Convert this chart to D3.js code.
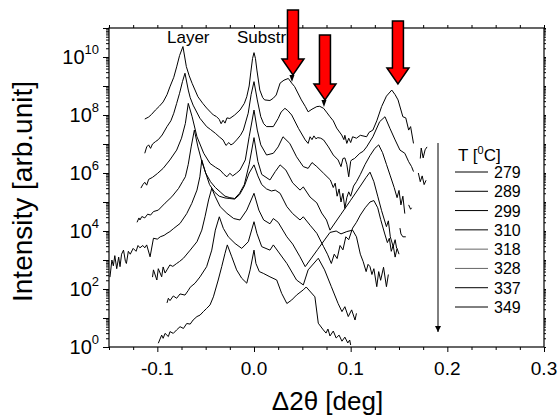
<!DOCTYPE html>
<html>
<head>
<meta charset="utf-8">
<script src="https://cdn.jsdelivr.net/npm/d3@7/dist/d3.min.js"></script>
<style>
  body { margin: 0; background: #fff; }
  text { font-family: "Liberation Sans", Arial, sans-serif; fill: #000; }
</style>
</head>
<body>
<div class="xrd-graph"></div>
<script>
// temperatures (legend), top curve first
const temps = ['279', '289', '299', '310', '318', '328', '337', '349'];

// each curve: [delta 2theta (deg), log10 intensity]; null = gap in the data
const c279 = [[-0.113,7.86],[-0.109,7.93],[-0.106,8.02],[-0.102,8.17],[-0.098,8.3],[-0.094,8.45],[-0.090,8.7],[-0.087,8.97],[-0.083,9.3],[-0.080,9.66],[-0.077,10.05],[-0.0735,10.36],[-0.070,9.67],[-0.067,9.35],[-0.064,9.09],[-0.058,8.63],[-0.053,8.4],[-0.049,8.24],[-0.045,8.1],[-0.042,8.0],[-0.039,7.95],[-0.036,7.85],[-0.034,7.7],[-0.032,7.82],[-0.030,7.72],[-0.028,7.9],[-0.025,7.88],[-0.020,8.0],[-0.0145,8.17],[-0.010,8.4],[-0.0075,8.63],[-0.005,9.0],[-0.0034,9.45],[-0.0015,9.95],[0,10.15],[0.0015,9.95],[0.003,9.55],[0.006,8.86],[0.009,8.6],[0.011,8.52],[0.0165,8.5],[0.020,8.58],[0.023,8.69],[0.027,9.1],[0.031,9.2],[0.0355,9.26],[0.039,9.1],[0.042,8.98],[0.049,8.52],[0.053,8.3],[0.056,8.11],[0.060,8.2],[0.065,8.29],[0.068,8.3],[0.072,8.23],[0.075,8.1],[0.0786,7.94],[0.082,7.8],[0.0855,7.55],[0.0907,7.31],[0.093,7.15],[0.094,7.3],[0.096,7.02],[0.098,7.2],[0.100,7.05],[0.102,7.25],[0.106,7.2],[0.110,7.3],[0.1165,7.25],[0.119,7.4],[0.123,7.48],[0.127,7.8],[0.132,8.29],[0.137,8.65],[0.1425,8.86],[0.146,8.7],[0.149,8.52],[0.154,7.94],[0.157,7.9],[0.160,7.48],[0.162,7.6],[0.165,7.02],null,[0.172,6.5],[0.173,6.86],[0.175,6.52],[0.177,6.8],[0.179,6.9]];
const c289 = [[-0.113,6.68],[-0.111,6.9],[-0.109,6.97],[-0.107,6.85],[-0.105,7.0],[-0.102,7.08],[-0.099,7.15],[-0.095,7.31],[-0.090,7.6],[-0.086,7.8],[-0.083,8.06],[-0.080,8.4],[-0.077,8.75],[-0.074,9.15],[-0.0714,9.44],[-0.068,8.86],[-0.066,8.6],[-0.063,8.34],[-0.056,7.89],[-0.049,7.6],[-0.045,7.5],[-0.040,7.37],[-0.036,7.25],[-0.032,7.14],[-0.029,6.95],[-0.026,7.05],[-0.024,6.97],[-0.022,7.0],[-0.018,7.14],[-0.014,7.3],[-0.011,7.48],[-0.006,8.06],[-0.003,8.7],[0,9.15],[0.0034,8.52],[0.007,7.94],[0.010,7.7],[0.013,7.6],[0.020,7.6],[0.025,7.88],[0.028,8.1],[0.032,8.23],[0.035,8.15],[0.039,8.0],[0.046,7.54],[0.053,7.14],[0.056,7.02],[0.058,7.25],[0.060,7.15],[0.062,7.28],[0.064,7.18],[0.066,7.22],[0.069,7.2],[0.072,7.14],[0.077,6.9],[0.082,6.62],[0.087,6.45],[0.090,6.22],[0.092,6.5],[0.094,6.52],[0.096,6.3],[0.098,5.87],[0.100,6.4],[0.101,6.45],[0.104,6.5],[0.1095,6.68],[0.113,6.75],[0.1165,6.9],[0.123,7.25],[0.130,7.77],[0.1355,7.94],[0.1406,7.54],[0.146,7.14],[0.151,6.79],[0.156,6.68],[0.160,6.39],[0.163,6.22],[0.165,6.05],null,[0.170,6.0],[0.172,5.7],[0.174,5.9],[0.176,5.6],[0.178,5.75]];
const c299 = [[-0.117,5.48],[-0.115,5.6],[-0.113,5.68],[-0.111,5.58],[-0.109,5.78],[-0.105,5.85],[-0.100,5.98],[-0.094,6.16],[-0.087,6.45],[-0.080,6.79],[-0.075,7.2],[-0.071,7.71],[-0.068,8.4],[-0.064,7.94],[-0.059,7.25],[-0.052,6.68],[-0.0455,6.33],[-0.040,6.2],[-0.035,6.1],[-0.031,5.95],[-0.028,5.87],[-0.025,5.99],[-0.022,5.9],[-0.018,6.0],[-0.0145,6.1],[-0.009,6.45],[-0.005,7.25],[0,8.17],[0.0034,7.48],[0.007,6.97],[0.013,6.62],[0.020,6.68],[0.025,6.9],[0.030,7.25],[0.037,7.02],[0.044,6.56],[0.051,6.22],[0.056,6.16],[0.060,6.36],[0.065,6.22],[0.072,5.99],[0.079,5.76],[0.082,5.5],[0.084,5.65],[0.086,5.2],[0.088,5.45],[0.090,5.0],[0.092,5.3],[0.094,4.78],[0.096,5.15],[0.098,5.35],[0.100,5.2],[0.103,5.55],[0.106,5.7],[0.110,5.95],[0.115,6.3],[0.120,6.6],[0.125,6.85],[0.129,6.97],[0.133,6.7],[0.137,6.3],[0.141,5.9],[0.145,5.5],[0.148,5.15],[0.150,5.4],[0.152,4.9],[0.154,5.2],[0.156,4.6],null,[0.160,4.9],[0.162,4.75],[0.163,4.8]];
const c310 = [[-0.121,4.3],[-0.119,4.45],[-0.118,4.38],[-0.116,4.5],[-0.113,4.45],[-0.110,4.58],[-0.107,4.55],[-0.104,4.67],[-0.099,4.72],[-0.092,4.96],[-0.085,5.18],[-0.078,5.47],[-0.074,5.7],[-0.071,5.87],[-0.068,6.3],[-0.065,6.9],[-0.0617,7.48],[-0.058,6.9],[-0.054,6.4],[-0.050,6.0],[-0.045,5.7],[-0.040,5.5],[-0.035,5.35],[-0.030,5.2],[-0.025,5.15],[-0.020,5.12],[-0.015,5.3],[-0.010,5.6],[-0.005,6.3],[0,7.22],[0.004,6.4],[0.008,5.95],[0.0165,5.76],[0.022,6.05],[0.027,6.28],[0.033,6.1],[0.040,5.66],[0.0476,5.41],[0.051,5.52],[0.058,5.17],[0.065,4.97],[0.070,4.62],[0.075,4.38],[0.0786,4.03],[0.090,4.58],[0.100,5.06],[0.110,5.55],[0.116,5.85],[0.120,6.03],[0.124,5.7],[0.128,5.2],[0.132,4.7],[0.137,4.15],[0.139,4.35],[0.141,3.8],[0.144,3.46],[0.146,3.7],[0.1475,3.41],null,[0.151,4.1],[0.152,3.9],[0.154,3.8],[0.157,3.8]];
const c318 = [[-0.149,2.41],[-0.147,3.0],[-0.1455,2.8],[-0.144,3.15],[-0.142,2.7],[-0.140,3.1],[-0.1386,2.77],[-0.137,3.2],[-0.135,3.34],[-0.133,2.95],[-0.132,2.88],[-0.130,3.3],[-0.128,3.2],[-0.125,3.4],[-0.122,3.3],[-0.120,3.5],[-0.118,3.42],[-0.115,3.5],[-0.113,3.42],[-0.111,3.52],[-0.1075,3.11],[-0.104,3.75],[-0.100,3.72],[-0.097,3.8],[-0.093,3.85],[-0.090,3.92],[-0.087,3.98],[-0.083,4.09],[-0.0765,4.26],[-0.0696,4.6],[-0.0644,4.95],[-0.059,5.41],[-0.056,5.87],[-0.054,6.45],[-0.050,6.0],[-0.046,5.6],[-0.041,5.35],[-0.036,5.2],[-0.030,5.14],[-0.025,5.12],[-0.020,5.1],[-0.015,5.25],[-0.010,5.55],[-0.005,6.0],[0,6.28],[0.004,5.9],[0.008,5.6],[0.013,5.45],[0.018,5.38],[0.022,5.41],[0.027,5.3],[0.034,4.84],[0.040,4.6],[0.0476,4.38],[0.051,4.49],[0.058,4.2],[0.065,3.92],[0.072,3.46],[0.076,3.2],[0.080,2.88],[0.083,3.2],[0.086,3.05],[0.089,3.5],[0.092,3.35],[0.095,3.8],[0.098,3.7],[0.102,4.1],[0.106,4.3],[0.110,4.55],[0.115,4.8],[0.120,5.0],[0.124,5.05],[0.128,4.8],[0.131,4.4],[0.135,3.93],[0.138,3.6],[0.140,3.75],[0.142,3.3],[0.144,3.5],[0.146,3.1],[0.148,3.4],[0.150,3.2]];
const c328 = [[-0.105,2.41],[-0.104,2.66],[-0.1005,2.31],[-0.099,2.7],[-0.0955,2.42],[-0.094,2.76],[-0.092,2.55],[-0.090,2.66],[-0.087,2.83],[-0.084,2.78],[-0.080,2.88],[-0.077,2.95],[-0.073,3.06],[-0.066,3.34],[-0.059,3.63],[-0.054,4.03],[-0.0507,4.49],[-0.047,5.07],[-0.0437,5.47],[-0.040,5.18],[-0.035,4.84],[-0.028,4.61],[-0.021,4.43],[-0.0145,4.38],[-0.0075,4.72],[0,5.3],[0.005,4.72],[0.010,4.38],[0.0165,4.25],[0.020,4.43],[0.025,4.3],[0.034,3.8],[0.040,3.55],[0.0476,3.11],[0.053,2.77],[0.066,3.37],[0.0786,3.95],[0.085,4.0],[0.090,3.9],[0.096,3.98],[0.102,4.03],[0.106,3.8],[0.110,3.2],[0.113,2.94],[0.116,2.6],[0.118,2.85],[0.120,2.77],[0.122,2.5],[0.124,2.7],[0.127,2.08],[0.129,2.6],[0.131,2.3],[0.134,2.75],[0.137,2.08],[0.139,2.5]];
const c337 = [[-0.090,1.52],[-0.0886,1.68],[-0.0869,1.6],[-0.0835,1.76],[-0.080,1.68],[-0.0765,1.83],[-0.0714,1.79],[-0.068,1.95],[-0.066,2.06],[-0.061,2.2],[-0.0558,2.42],[-0.049,2.77],[-0.0437,3.34],[-0.040,4.03],[-0.0359,4.49],[-0.0317,4.09],[-0.0266,3.8],[-0.0196,3.57],[-0.0127,3.4],[-0.0059,3.63],[0,4.32],[0.003,3.92],[0.008,3.46],[0.0165,3.34],[0.020,3.52],[0.034,2.88],[0.044,2.31],[0.051,2.14],[0.056,2.66],[0.0665,3.06],[0.073,2.66],[0.080,2.08],[0.087,1.5],[0.091,1.22],[0.094,1.39],[0.0975,1.05],[0.101,1.28],[0.1045,0.93],[0.106,1.16]];
const c349 = [[-0.099,0.13],[-0.0955,0.41],[-0.094,0.3],[-0.092,0.47],[-0.0886,0.36],[-0.0869,0.53],[-0.0835,0.47],[-0.080,0.59],[-0.0765,0.7],[-0.073,0.64],[-0.0696,0.81],[-0.066,0.79],[-0.063,0.93],[-0.059,1.05],[-0.0558,1.1],[-0.0524,1.22],[-0.049,1.33],[-0.0455,1.45],[-0.042,1.73],[-0.037,2.31],[-0.0334,2.77],[-0.030,3.23],[-0.0276,3.52],[-0.023,3.11],[-0.018,2.66],[-0.0127,2.37],[-0.0075,2.2],[-0.004,2.66],[0,3.34],[0.002,2.88],[0.0055,2.6],[0.0096,2.54],[0.0165,2.42],[0.0235,2.31],[0.0286,1.85],[0.034,1.5],[0.039,1.62],[0.044,1.79],[0.051,1.97],[0.054,2.07],[0.063,1.73],[0.0665,0.82],[0.0717,0.59],[0.0745,0.48],[0.0765,0.62],[0.0786,0.38],[0.082,0.55],[0.085,0.31],[0.088,0.41],[0.091,0.2],[0.094,0.34],[0.097,0.14],[0.099,0.24],[0.100,0.07]];
const series = [c279, c289, c299, c310, c318, c328, c337, c349];

const xTicks = [-0.1, 0.0, 0.1, 0.2, 0.3];
const yLabelExps = [0, 2, 4, 6, 8, 10];

// red arrows: [x of tip, log10 I of tip, log10 I of arrow top]
const arrowMarks = [[0.0403, 9.38, 11.62], [0.0734, 8.52, 10.76], [0.1489, 9.07, 11.24]];
const peakNames = [{ name: 'Layer', x: -0.068, anchor: 'middle' }, { name: 'Substr', x: -0.0176, anchor: 'start' }];

const width = 559;
const height = 416;
const margin = { top: 28, right: 15, bottom: 69, left: 109 };

const svg = d3.select('.xrd-graph')
  .append('svg')
  .attr('width', width)
  .attr('height', height);

const xScale = d3.scaleLinear()
  .domain([-0.15, 0.3])
  .range([margin.left, width - margin.right]);

const yScale = d3.scaleLog()
  .domain([1, 1e11])
  .range([height - margin.bottom, margin.top]);

const x0 = margin.left, x1 = width - margin.right;
const y0 = height - margin.bottom, y1 = margin.top;

// ticks
const majorY = d3.range(0, 12).map(e => Math.pow(10, e));
const minorY = [];
d3.range(0, 11).forEach(e => d3.range(2, 10).forEach(m => minorY.push(m * Math.pow(10, e))));
const minorX = d3.range(-6, 13).map(i => i * 0.025).filter(v => !xTicks.some(t => Math.abs(t - v) < 1e-9));

function styleAxis(g) {
  g.select('.domain').remove();
  g.selectAll('line').attr('stroke', '#000').attr('stroke-width', 1);
}

svg.append('g').attr('transform', `translate(0, ${y0})`)
  .call(d3.axisBottom(xScale).tickValues(xTicks).tickSize(5).tickFormat(''))
  .call(styleAxis);
svg.append('g').attr('transform', `translate(0, ${y0})`)
  .call(d3.axisBottom(xScale).tickValues(minorX).tickSize(3).tickFormat(''))
  .call(styleAxis);
svg.append('g').attr('transform', `translate(0, ${y1})`)
  .call(d3.axisTop(xScale).tickValues(xTicks.concat(minorX)).tickSize(3).tickFormat(''))
  .call(styleAxis);

svg.append('g').attr('transform', `translate(${x0}, 0)`)
  .call(d3.axisLeft(yScale).tickValues(majorY).tickSize(6).tickFormat(''))
  .call(styleAxis);
svg.append('g').attr('transform', `translate(${x0}, 0)`)
  .call(d3.axisLeft(yScale).tickValues(minorY).tickSize(3).tickFormat(''))
  .call(styleAxis);
svg.append('g').attr('transform', `translate(${x1}, 0)`)
  .call(d3.axisRight(yScale).tickValues(majorY.concat(minorY)).tickSize(2).tickFormat(''))
  .call(styleAxis);

// frame
svg.append('rect')
  .attr('x', x0).attr('y', y1)
  .attr('width', x1 - x0).attr('height', y0 - y1)
  .attr('fill', 'none').attr('stroke', '#000').attr('stroke-width', 1.2);

// tick labels
svg.append('g').selectAll('text')
  .data(xTicks)
  .join('text')
  .attr('x', d => xScale(d))
  .attr('y', y0 + 28)
  .attr('text-anchor', 'middle')
  .style('font-size', '19px')
  .text(d => d.toFixed(1));

const yLab = svg.append('g').selectAll('text')
  .data(yLabelExps)
  .join('text')
  .attr('x', x0 - 10)
  .attr('y', d => yScale(Math.pow(10, d)) + 7)
  .attr('text-anchor', 'end')
  .style('font-size', '20px');
yLab.append('tspan').text('10');
yLab.append('tspan').attr('dy', -10).style('font-size', '13px').text(d => d);

// axis titles
svg.append('text')
  .attr('transform', `translate(32, ${(y0 + y1) / 2 + 4}) rotate(-90)`)
  .attr('text-anchor', 'middle')
  .style('font-size', '28px')
  .text('Intensity [arb.unit]');

svg.append('text')
  .attr('x', (x0 + x1) / 2 + 1)
  .attr('y', 410)
  .attr('text-anchor', 'middle')
  .style('font-size', '26px')
  .text('Δ2θ [deg]');

// curves
svg.append('clipPath').attr('id', 'plot-clip')
  .append('rect').attr('x', x0).attr('y', y1).attr('width', x1 - x0).attr('height', y0 - y1);

const curveLine = d3.line()
  .defined(d => d !== null)
  .x(d => xScale(d[0]))
  .y(d => yScale(Math.pow(10, d[1])));

svg.append('g')
  .attr('clip-path', 'url(#plot-clip)')
  .selectAll('path')
  .data(series)
  .join('path')
  .attr('fill', 'none')
  .attr('stroke', '#000')
  .attr('stroke-width', 1)
  .attr('stroke-linejoin', 'round')
  .attr('d', curveLine);

// peak names
svg.append('g').selectAll('text')
  .data(peakNames)
  .join('text')
  .attr('x', d => xScale(d.x))
  .attr('y', y1 + 15)
  .attr('text-anchor', d => d.anchor)
  .style('font-size', '17px')
  .text(d => d.name);

// red arrows
const arrows = svg.append('g');
arrowMarks.forEach(([ax, tipL, topL]) => {
  const cx = xScale(ax);
  const tip = yScale(Math.pow(10, tipL));
  const top = yScale(Math.pow(10, topL));
  const hb = tip - 16;
  arrows.append('path')
    .attr('d', `M${cx - 5.5},${top} L${cx + 5.5},${top} L${cx + 5.5},${hb} L${cx + 11},${hb} L${cx},${tip} L${cx - 11},${hb} L${cx - 5.5},${hb} Z`)
    .attr('fill', '#ff0000')
    .attr('stroke', '#000')
    .attr('stroke-width', 1.5)
    .attr('stroke-linejoin', 'miter');
});
// small black arrowheads under the first two red arrows
arrowMarks.slice(0, 2).forEach(([ax, tipL]) => {
  const cx = xScale(ax) - 1;
  const tip = yScale(Math.pow(10, tipL));
  arrows.append('path')
    .attr('d', `M${cx - 2.5},${tip} L${cx + 2.5},${tip} L${cx},${tip + 7} Z`)
    .attr('fill', '#000');
});

// legend
const legendY = d3.scaleLinear().domain([0, temps.length - 1]).range([172, 307]);
const legend = svg.append('g');
const legendTitle = legend.append('text')
  .attr('x', 458).attr('y', 161)
  .style('font-size', '17px');
legendTitle.append('tspan').text('T [');
legendTitle.append('tspan').attr('dy', -7).style('font-size', '11px').text('0');
legendTitle.append('tspan').attr('dy', 7).text('C]');

legend.selectAll('line')
  .data(temps)
  .join('line')
  .attr('x1', 455).attr('x2', 488)
  .attr('y1', (d, i) => legendY(i)).attr('y2', (d, i) => legendY(i))
  .attr('stroke', (d, i) => (i === 4 || i === 5) ? '#666' : '#000')
  .attr('stroke-width', 1);

legend.selectAll('text.temp')
  .data(temps)
  .join('text')
  .attr('class', 'temp')
  .attr('x', 494)
  .attr('y', (d, i) => legendY(i) + 6)
  .style('font-size', '16px')
  .text(d => d);

// temperature-order arrow
svg.append('defs').append('marker')
  .attr('id', 'down-head')
  .attr('viewBox', '0 0 10 10')
  .attr('refX', 10).attr('refY', 5)
  .attr('markerWidth', 10).attr('markerHeight', 6)
  .attr('orient', 'auto')
  .attr('markerUnits', 'userSpaceOnUse')
  .append('path').attr('d', 'M0,0 L10,5 L0,10 Z').attr('fill', '#000');

svg.append('line')
  .attr('x1', 438).attr('x2', 438)
  .attr('y1', 143).attr('y2', 332)
  .attr('stroke', '#000').attr('stroke-width', 1)
  .attr('marker-end', 'url(#down-head)');
</script>
</body>
</html>
